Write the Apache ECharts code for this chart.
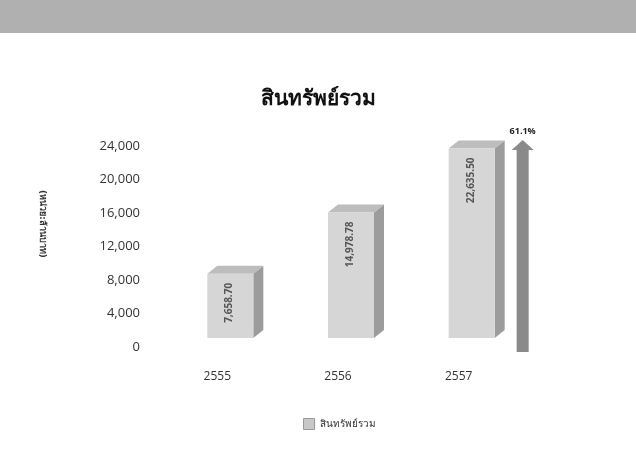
<!DOCTYPE html>
<html>
<head>
<meta charset="utf-8">
<script src="https://cdn.jsdelivr.net/npm/echarts@6/dist/echarts.min.js"></script>
<style>
  html, body { margin: 0; padding: 0; background: #fff; }
  #main { width: 636px; height: 450px; }
</style>
</head>
<body>
<div id="main"></div>
<script>
// ปีงบประมาณ
const years = ["2555", "2556", "2557"];
// สินทรัพย์รวม (ล้านบาท)
const totalAssets = [7658.70, 14978.78, 22635.50];
const valueLabels = ["7,658.70", "14,978.78", "22,635.50"];
const growthText = "61.1%";
const seriesName = "สินทรัพย์รวม";

const thaiFont = "Tahoma, 'DejaVu Sans', 'Noto Sans', sans-serif";
const numFont = "'Open Sans', 'DejaVu Sans', sans-serif";

const chart = echarts.init(document.getElementById("main"));

// กล่อง 3 มิติ
function renderBox(params, api) {
  const idx = api.value(0);
  const top = api.coord([idx, api.value(1)]);
  const base = api.coord([idx, 0]);
  const lift = 9;
  const w = 46, d = 10, dy = 8;
  const x = top[0] - w / 2;
  const y = top[1] - lift;
  const b = base[1] - lift;
  return {
    type: "group",
    children: [
      {
        type: "polygon",
        shape: { points: [[x + w, y], [x + w + d, y - dy], [x + w + d, b - dy], [x + w, b]] },
        style: { fill: "#9c9c9c" },
      },
      {
        type: "polygon",
        shape: { points: [[x, y], [x + d, y - dy], [x + w + d, y - dy], [x + w, y]] },
        style: { fill: "#bdbdbd" },
      },
      {
        type: "rect",
        shape: { x: x, y: y, width: w, height: b - y },
        style: { fill: "#d6d6d6" },
      },
      {
        type: "text",
        x: top[0] - 1,
        y: y + 9,
        rotation: Math.PI / 2,
        style: {
          text: valueLabels[params.dataIndex],
          fill: "#555",
          font: "bold 10px " + numFont,
          align: "right",
          verticalAlign: "middle",
        },
      },
    ],
  };
}

chart.setOption({
  animation: false,
  backgroundColor: "#fff",
  title: {
    text: "สินทรัพย์รวม",
    left: "center",
    top: 84,
    textStyle: { fontSize: 21, fontWeight: "bold", color: "#111", fontFamily: thaiFont },
  },
  legend: {
    top: 413,
    left: 298,
    icon: "rect",
    itemWidth: 11,
    itemHeight: 11,
    itemGap: 6,
    data: [{ name: seriesName, itemStyle: { color: "#c8c8c8", borderColor: "#999", borderWidth: 1 } }],
    textStyle: { fontSize: 10, color: "#333", fontFamily: thaiFont },
  },
  grid: { left: 170, right: 104, top: 146, bottom: 103 },
  xAxis: {
    type: "category",
    data: years,
    axisLine: { show: false },
    axisTick: { show: false },
    axisLabel: {
      margin: 24,
      fontSize: 12,
      color: "#333",
      fontFamily: numFont,
      padding: [0, 26, 0, 0],
    },
  },
  yAxis: {
    type: "value",
    min: 0,
    max: 24000,
    interval: 4000,
    splitLine: { show: false },
    axisLine: { show: false },
    axisTick: { show: false },
    axisLabel: {
      margin: 30,
      fontSize: 13,
      color: "#333",
      fontFamily: numFont,
      formatter: (v) => v.toLocaleString("en-US"),
    },
  },
  series: [
    {
      name: seriesName,
      type: "custom",
      renderItem: renderBox,
      data: totalAssets.map((v, i) => [i, v]),
      itemStyle: { color: "#c8c8c8" },
    },
  ],
});

// ลูกศรการเติบโต และ ชื่อแกน
const ax = chart.convertToPixel({ xAxisIndex: 0 }, years[2]) + 51;
const ay0 = chart.convertToPixel({ yAxisIndex: 0 }, 0) + 5;
const ay1 = chart.convertToPixel({ yAxisIndex: 0 }, 24000) - 6;
chart.setOption({
  graphic: [
    {
      type: "rect",
      left: 0,
      top: 0,
      shape: { width: 636, height: 33 },
      style: { fill: "#b0b0b0" },
      z: -1,
    },
    {
      type: "polygon",
      shape: {
        points: [
          [ax - 6, ay0], [ax - 6, ay1 + 10], [ax - 11, ay1 + 10], [ax, ay1],
          [ax + 11, ay1 + 10], [ax + 6, ay1 + 10], [ax + 6, ay0],
        ],
      },
      style: { fill: "#8a8a8a" },
    },
    {
      type: "text",
      x: ax,
      y: ay1 - 4,
      style: { text: growthText, fill: "#222", font: "bold 9px " + numFont, align: "center", verticalAlign: "bottom" },
    },
    {
      type: "text",
      x: 42,
      y: 224,
      rotation: -Math.PI / 2,
      style: { text: "(หน่วย:ล้านบาท)", fill: "#333", font: "bold 9px " + thaiFont, align: "center", verticalAlign: "middle" },
    },
  ],
});
</script>
</body>
</html>
